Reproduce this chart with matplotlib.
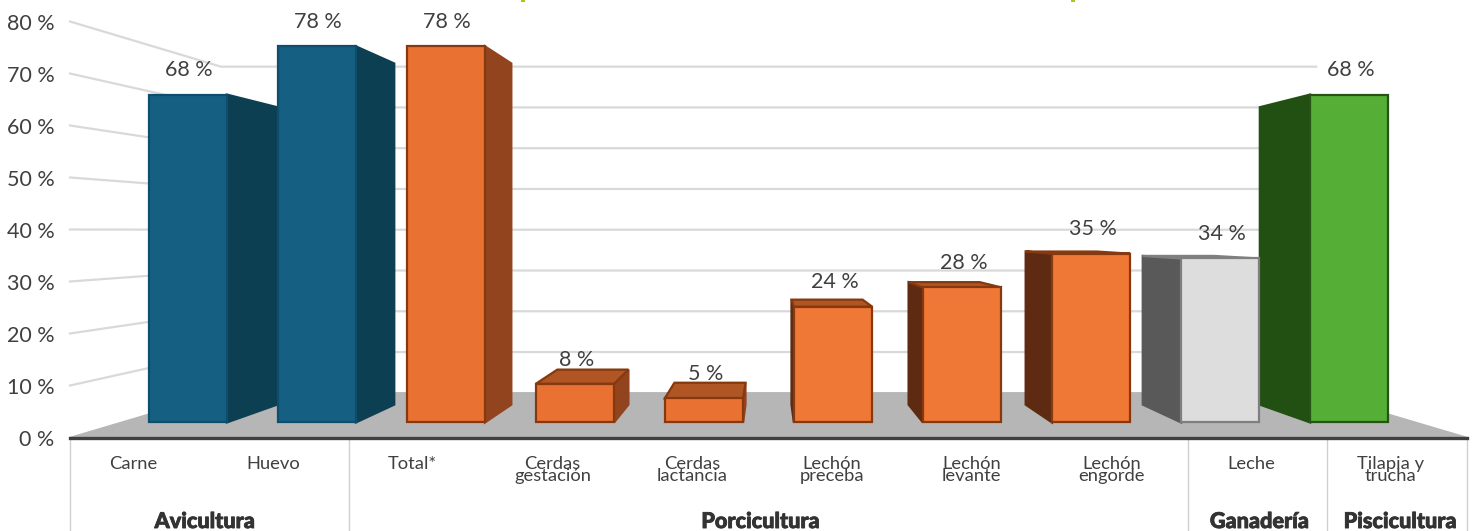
import matplotlib
matplotlib.use('Agg')
import matplotlib.pyplot as plt
import matplotlib.patheffects as pe
from matplotlib.patches import Rectangle
from matplotlib.transforms import ScaledTranslation

plt.rcParams['font.family'] = ['Lato', 'DejaVu Sans']

categories = ['Carne', 'Huevo', 'Total*', 'Cerdas\ngestación', 'Cerdas\nlactancia',
              'Lechón\npreceba', 'Lechón\nlevante', 'Lechón\nengorde', 'Leche', 'Tilapia y\ntrucha']
values = [68, 78, 78, 8, 5, 24, 28, 35, 34, 68]
groups = ['Avicultura', 'Porcicultura', 'Ganadería', 'Piscicultura']
group_edges = [0, 2, 8, 9, 10]
y_ticks = [0, 10, 20, 30, 40, 50, 60, 70, 80]

blue = dict(front='#156082', edge='#0F4D6C', side='#0D3F53', top='#0D3F53')
orange = dict(front='#E97132', edge='#86380F', side='#92441F', top='#B05524')
orange_dark = dict(front='#F07836', edge='#86380F', side='#5E2B12', top='#B05524')
gray = dict(front='#DDDDDD', edge='#7F7F7F', side='#595959', top='#7F7F7F')
green = dict(front='#55AE35', edge='#275317', side='#215012', top='#275317')
bar_styles = [blue, blue, orange, orange, orange, orange_dark, orange_dark, orange_dark, gray, green]

text_color = '#404040'
grid_color = '#D9D9D9'

# perspective of the fake 3d box
vanish_x, vanish_y = 5, 39.8
wall_depth = 0.784
bar_front = 0.927
bar_back = 0.841
bar_width = 0.605
bar_spread = 0.9965


def project(x, v, s):
    return vanish_x + s * (x - vanish_x), vanish_y + s * (v - vanish_y)


def face(ax, corners, s_list, color, edge, z):
    pts = [project(x, v, s) for (x, v), s in zip(corners, s_list)]
    ax.fill(*zip(*pts), facecolor=color, edgecolor=edge, linewidth=1.6, zorder=z, clip_on=False)


fig = plt.figure(figsize=(14.73, 5.31), dpi=100)
ax = fig.add_axes([70 / 1473, (531 - 437.5) / 531, 1397 / 1473, 416 / 531])
ax.set_xlim(0, 10)
ax.set_ylim(0, 80)

# floor and walls
floor = [project(0, 0, 1), project(0, 0, wall_depth), project(10, 0, wall_depth), project(10, 0, 1)]
ax.fill(*zip(*floor), color='#B6B6B6', zorder=1, clip_on=False)
for t in y_ticks[1:]:
    ax.plot(*zip(project(0, t, 1), project(0, t, wall_depth), project(10, t, wall_depth)),
            color=grid_color, lw=1.6, zorder=0, clip_on=False)

# outer bars first, so the ones nearer the middle sit on top
order = sorted(range(len(values)), key=lambda i: -abs(i + 0.5 - vanish_x))
for i in order:
    v = values[i]
    st = bar_styles[i]
    centre = vanish_x + (i + 0.5 - vanish_x) * bar_spread
    x0 = centre - bar_width / 2
    x1 = centre + bar_width / 2
    z = 3 + (5 - abs(i + 0.5 - vanish_x))
    # side face towards the vanishing point
    sx = x1 if x1 < vanish_x else x0
    face(ax, [(sx, 0), (sx, v), (sx, v), (sx, 0)], [bar_front, bar_front, bar_back, bar_back],
         st['side'], st['side'], z)
    # top face only shows below the horizon
    if v < vanish_y:
        face(ax, [(x0, v), (x1, v), (x1, v), (x0, v)], [bar_front, bar_front, bar_back, bar_back],
             st['top'], st['edge'], z)
    face(ax, [(x0, 0), (x1, 0), (x1, v), (x0, v)], [bar_front] * 4, st['front'], st['edge'], z + 0.1)
    lx, ly = project(centre, v, bar_front)
    ax.annotate(f'{v} %', (lx, ly), xytext=(1, 17.5), textcoords='offset points', ha='center', va='center',
                fontsize=15.5, color=text_color, zorder=20)

for side in ['top', 'left', 'right']:
    ax.spines[side].set_visible(False)
ax.spines['bottom'].set_color(text_color)
ax.spines['bottom'].set_linewidth(2.4)
ax.spines['bottom'].set_zorder(15)

ax.set_yticks(y_ticks)
ax.set_yticklabels([f'{t} %' for t in y_ticks], fontsize=15.5, color=text_color)
ax.tick_params(axis='y', length=0, pad=11)

ax.set_xticks([i + 0.5 for i in range(len(categories))])
ax.set_xticklabels(categories, fontsize=13.2, color=text_color, linespacing=0.72)
ax.tick_params(axis='x', which='major', length=0, pad=13)
ax.set_xticks(group_edges, minor=True)
ax.tick_params(axis='x', which='minor', length=68, width=1, color='#D0D0D0')

# category labels sit a little left of the bar slots
shift = ScaledTranslation(-6.5 / 100, 0, fig.dpi_scale_trans)
for lab in ax.get_xticklabels():
    lab.set_transform(lab.get_transform() + shift)

group_nudge = [-5, -8, 2, 3]
for k, name in enumerate(groups):
    t = ax.annotate(name, ((group_edges[k] + group_edges[k + 1]) / 2, 0), xycoords=('data', 'axes fraction'),
                    xytext=(group_nudge[k] * 0.72, -60.5), textcoords='offset points', ha='center', va='center',
                    fontsize=15.6, fontweight='black', color='#333333', annotation_clip=False)
    t.set_path_effects([pe.withStroke(linewidth=0.6, foreground='#333333')])

# two specks left over from the title cropped off above the chart
for px in [521, 1071]:
    fig.add_artist(Rectangle((px / 1473, 1 - 2 / 531), 4 / 1473, 2 / 531, transform=fig.transFigure,
                             facecolor='#A9C81E', edgecolor='none'))

fig.savefig('out.png', dpi=100)
